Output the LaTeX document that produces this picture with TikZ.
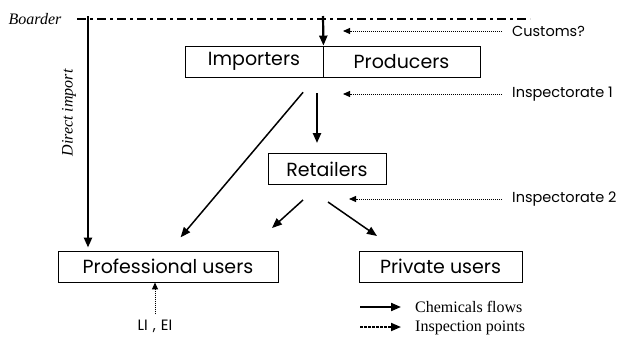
\documentclass[tikz,border=0pt]{standalone}
\usepackage{fontspec}
\setmainfont{Liberation Serif}
\newfontfamily\boxfont{Poppins}
\usetikzlibrary{arrows.meta,calc}
\begin{document}
\begin{tikzpicture}[x=1pt,y=-1pt,
  box/.style={draw,line width=0.9pt,minimum height=31pt,inner sep=0pt,font=\boxfont\fontsize{19}{19}\selectfont},
  flow/.style={line width=2.2pt,-{Triangle[length=10pt,width=8pt]}},
  insp/.style={line width=1pt,dash pattern=on 1pt off 1pt,-{Triangle[length=7pt,width=6pt]}},
  lbl/.style={font=\boxfont\fontsize{14.5}{14.5}\selectfont,anchor=west,inner sep=0pt},
  note/.style={font=\fontsize{16}{16}\selectfont,anchor=west,inner sep=0pt}]
\useasboundingbox (0,0) rectangle (625,341);

% boxes
\node[box,minimum width=138pt] (imp) at (254,61.5) {Importers};
\node[box,minimum width=157pt] (prod) at (401.5,61.5) {Producers};
\node[box,minimum width=118pt] (ret) at (327,169) {Retailers};
\node[box,minimum width=220pt] (prof) at (168,266.5) {Professional users};
\node[box,minimum width=163pt] (priv) at (440.5,266.5) {Private users};

% border line
\node[font=\itshape\fontsize{16}{16}\selectfont,inner sep=0pt] (brd) at (35,19) {Boarder};
\coordinate (bL) at (77,19);
\coordinate (bR) at (530,19);
\draw[line width=2pt,dash pattern=on 9pt off 4pt on 3pt off 4pt] (bL) -- (bR);

% chemical flows
\coordinate (di) at (88,16);
\draw[flow,shorten >=3pt] (di) -- (di |- prof.north);
\node[rotate=90,font=\itshape\fontsize{16}{16}\selectfont,inner sep=0pt] (dilbl) at (69,113) {Direct import};

\coordinate (ci) at (323,16);
\draw[flow] (ci) -- (imp.north east);

\coordinate (r1) at (317,77);
\draw[flow,shorten <=16pt,shorten >=10pt] (r1) -- (r1 |- ret.north);

\coordinate (d0) at (316,77);
\coordinate (d1) at (169,251);
\draw[line width=1.5pt,-{Triangle[length=10pt,width=8pt]},shorten <=20pt,shorten >=18pt] (d0) -- (d1);

\coordinate (a0) at (303,200);
\coordinate (a1) at (272,228);
\draw[line width=1.5pt,-{Triangle[length=10pt,width=8pt]}] (a0) -- (a1);
\coordinate (b0) at (328,202);
\coordinate (b1) at (377,236);
\draw[line width=1.5pt,-{Triangle[length=10pt,width=8pt]}] (b0) -- (b1);

% inspection points
\node[lbl] (cus) at (512,31) {Customs?};
\coordinate (cusT) at (343,31);
\draw[insp] ($(cus.west)+(-10,0)$) -- (cusT);

\node[lbl] (in1) at (512,94) {Inspectorate 1};
\coordinate (in1T) at (343,94);
\draw[insp] ($(in1.west)+(-10,0)$) -- (in1T);

\node[lbl] (in2) at (512,199) {Inspectorate 2};
\coordinate (in2T) at (349,199);
\draw[insp] ($(in2.west)+(-10,0)$) -- (in2T);

\node[font=\boxfont\fontsize{15}{15}\selectfont,inner sep=0pt] (liei) at (155,326) {LI\hspace{5pt},\hspace{5pt}EI};
\draw[insp] ($(liei.north)+(0,-5)$) -- (prof.south -| liei.north);

% legend
\coordinate (l1) at (360,307);
\coordinate (l2) at (401,307);
\draw[flow,line width=2pt] (l1) -- (l2);
\node[note] (lc) at (415,307) {Chemicals flows};
\coordinate (l3) at (360,327);
\coordinate (l4) at (401,327);
\draw[insp,line width=1.8pt,dash pattern=on 2.5pt off 1.5pt,-{Triangle[length=10pt,width=8pt]}] (l3) -- (l4);
\node[note] (li) at (415,328) {Inspection points};
\end{tikzpicture}
\end{document}
